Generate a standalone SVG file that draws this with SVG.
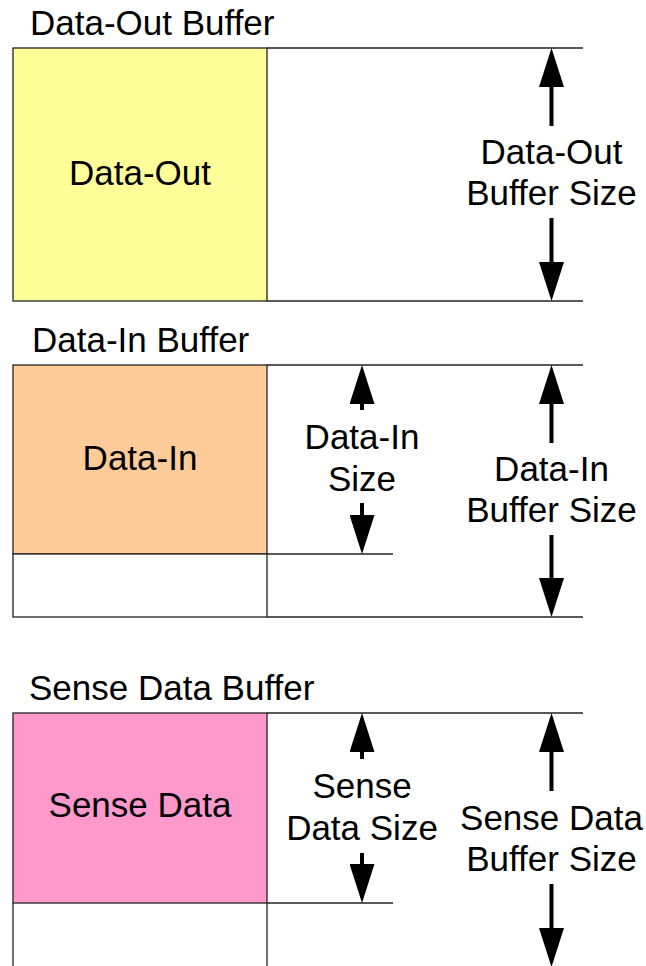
<svg xmlns="http://www.w3.org/2000/svg" width="646" height="966" viewBox="0 0 646 966">
<style>
text{font-family:"Liberation Sans",Arial,sans-serif;font-size:35px;fill:#000}
.m{text-anchor:middle}
.ln{stroke:#222;stroke-width:1.3;fill:none}
.box{stroke:#222;stroke-width:1.3}
.ar{stroke:#000;stroke-width:4;fill:none;marker-end:url(#head)}
</style>
<defs>
<marker id="head" markerUnits="userSpaceOnUse" viewBox="0 0 39 25" refX="0" refY="12.5" markerWidth="39" markerHeight="25" orient="auto">
<path d="M0,0 L39,12.5 L0,25 Z" fill="#000"/>
</marker>
</defs>
<rect width="646" height="966" fill="#fff"/>
<g id="data-out-buffer">
<text x="30" y="35">Data-Out Buffer</text>
<rect x="13" y="48" width="254" height="253" fill="#FFFF99" class="box"/>
<line x1="267" y1="48" x2="583" y2="48" class="ln"/>
<line x1="267" y1="301" x2="583" y2="301" class="ln"/>
<text class="m" x="140" y="185">Data-Out</text>
</g>
<g id="data-in-buffer">
<text x="32" y="352">Data-In Buffer</text>
<rect x="13" y="365" width="254" height="189" fill="#FFCC99" class="box"/>
<rect x="13" y="554" width="254" height="63" fill="#fff" class="box"/>
<line x1="267" y1="365" x2="583" y2="365" class="ln"/>
<line x1="267" y1="617" x2="583" y2="617" class="ln"/>
<line x1="267" y1="554" x2="393" y2="554" class="ln"/>
<text class="m" x="140" y="470">Data-In</text>
</g>
<g id="sense-data-buffer">
<text x="29" y="700">Sense Data Buffer</text>
<rect x="13" y="713" width="254" height="190" fill="#FF99CC" class="box"/>
<line x1="13" y1="903" x2="13" y2="970" class="ln"/>
<line x1="267" y1="903" x2="267" y2="970" class="ln"/>
<line x1="267" y1="713" x2="583" y2="713" class="ln"/>
<line x1="267" y1="903" x2="393" y2="903" class="ln"/>
<text class="m" x="140" y="817">Sense Data</text>
</g>
<g id="connectors">
<line x1="551.5" y1="126" x2="551.5" y2="87" class="ar"/>
<line x1="551.5" y1="218" x2="551.5" y2="262" class="ar"/>
<line x1="362" y1="410" x2="362" y2="404" class="ar"/>
<line x1="362" y1="503" x2="362" y2="515" class="ar"/>
<line x1="551.5" y1="443" x2="551.5" y2="404" class="ar"/>
<line x1="551.5" y1="535" x2="551.5" y2="578" class="ar"/>
<line x1="362" y1="759" x2="362" y2="752" class="ar"/>
<line x1="362" y1="853" x2="362" y2="864" class="ar"/>
<line x1="551.5" y1="791" x2="551.5" y2="752" class="ar"/>
<line x1="551.5" y1="884" x2="551.5" y2="928" class="ar"/>
</g>
<g id="labels">
<text class="m" x="551.5" y="164">Data-Out</text>
<text class="m" x="551.5" y="205">Buffer Size</text>
<text class="m" x="362" y="449">Data-In</text>
<text class="m" x="362" y="491">Size</text>
<text class="m" x="551.5" y="481">Data-In</text>
<text class="m" x="551.5" y="522">Buffer Size</text>
<text class="m" x="362" y="798">Sense</text>
<text class="m" x="362" y="840">Data Size</text>
<text class="m" x="551.5" y="830">Sense Data</text>
<text class="m" x="551.5" y="871">Buffer Size</text>
</g>
</svg>
